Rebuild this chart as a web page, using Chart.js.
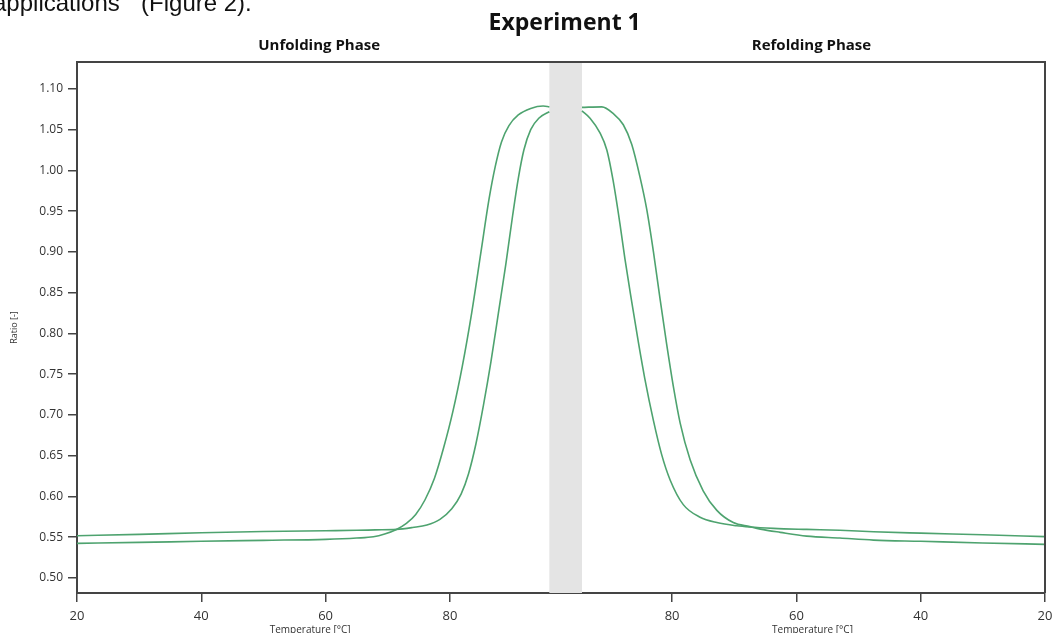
<!DOCTYPE html>
<html>
<head>
<meta charset="utf-8">
<script src="https://cdn.jsdelivr.net/npm/chart.js@4"></script>
<style>
body { margin: 0; background: #fff; }
#wrap { position: relative; width: 1060px; height: 633px; overflow: hidden; background: #fff; }
#chart { position: absolute; left: 0; top: 0; }
#doc { position: absolute; left: -7px; top: -9px; font: 24px 'Liberation Sans', Arial, sans-serif; line-height: 24px; color: #111; white-space: nowrap; }
</style>
</head>
<body>
<div id="wrap">
  <canvas id="chart" width="1060" height="633"></canvas>
  <div id="doc">applications”&nbsp; (Figure 2).</div>
</div>
<script>
// Experiment 1 - unfolding / refolding ratio curves

// Unfolding phase (temperature rising, drawn left to right)
const unfoldTempsA = [20, 30, 40, 50, 60, 65, 67.7, 69.5, 71.4, 73, 74.5, 76, 77.5, 79, 80.5, 82, 83.5, 85, 86.3, 87.3, 88.3, 89.5, 91, 93, 95, 96];
const unfoldRatioA = [0.5425, 0.5437, 0.545, 0.5462, 0.5474, 0.549, 0.5506, 0.554, 0.5596, 0.567, 0.578, 0.596, 0.622, 0.66, 0.705, 0.76, 0.825, 0.9, 0.965, 1.005, 1.035, 1.055, 1.068, 1.076, 1.079, 1.078];

const unfoldTempsB = [20, 30, 40, 50, 60, 65, 68, 71.4, 74, 76.3, 78.4, 80.3, 81.8, 83, 84.2, 85.4, 86.6, 87.8, 89, 90.1, 91, 91.9, 93, 94.3, 96];
const unfoldRatioB = [0.5518, 0.5535, 0.5555, 0.557, 0.558, 0.5585, 0.559, 0.5596, 0.562, 0.565, 0.572, 0.585, 0.603, 0.628, 0.665, 0.712, 0.765, 0.825, 0.885, 0.945, 0.99, 1.025, 1.05, 1.064, 1.072];

// Refolding phase (temperature falling, drawn from hot to cold)
const refoldTempsC = [20, 30, 40, 47.6, 53, 58.35, 62.6, 65.8, 67.5, 70.15, 72.8, 75, 77.1, 78.7, 79.8, 80.9, 81.95, 83, 84.1, 85.2, 86.5, 87.85, 89.5, 91.3, 94.5];
const refoldRatioC = [0.5413, 0.543, 0.545, 0.5465, 0.549, 0.5514, 0.556, 0.56, 0.563, 0.568, 0.583, 0.607, 0.645, 0.69, 0.735, 0.788, 0.843, 0.9, 0.953, 0.993, 1.032, 1.056, 1.07, 1.078, 1.0773];

const refoldTempsD = [20, 30, 40, 47.6, 53, 58.35, 63.7, 67.5, 69.6, 72.8, 75.5, 78.2, 80.3, 81.7, 83, 84.4, 85.4, 86.5, 87.6, 88.4, 89.5, 90.5, 91.6, 93.2, 94.5];
const refoldRatioD = [0.5508, 0.553, 0.555, 0.5567, 0.5585, 0.5596, 0.5609, 0.5625, 0.564, 0.568, 0.5746, 0.59, 0.62, 0.652, 0.693, 0.745, 0.788, 0.839, 0.892, 0.935, 0.988, 1.025, 1.046, 1.064, 1.073];

// Axis ticks
const yTicks = [0.50, 0.55, 0.60, 0.65, 0.70, 0.75, 0.80, 0.85, 0.90, 0.95, 1.00, 1.05, 1.10];
const leftTickTemps = [20, 40, 60, 80];
const rightTickTemps = [80, 60, 40, 20];

// Panel layout on a shared x axis
const BAND_START = 96;     // end of unfolding panel
const BAND_END = 101.25;   // start of refolding panel
const REFOLD_MAX = 94.5;   // temperature at the start of refolding
const toAxis = t => BAND_END + (REFOLD_MAX - t);

const lineColor = '#4ea36f';
const axisColor = '#444';
const font = "'Open Sans', 'Noto Sans', sans-serif";

function series(temps, ratios, refold) {
    const pts = temps.map((t, i) => ({ x: refold ? toAxis(t) : t, y: ratios[i] }));
    return refold ? pts.reverse() : pts;
}

const xTickValues = leftTickTemps.concat(rightTickTemps.map(toAxis));
const xTickLabels = leftTickTemps.concat(rightTickTemps);

const decor = {
    id: 'decor',
    beforeDatasetsDraw(chart) {
        const { ctx, chartArea, scales } = chart;
        const x0 = scales.x.getPixelForValue(BAND_START);
        const x1 = scales.x.getPixelForValue(BAND_END);
        ctx.save();
        ctx.fillStyle = '#e4e4e4';
        ctx.fillRect(x0, chartArea.top, x1 - x0, chartArea.bottom - chartArea.top);
        ctx.restore();
    },
    afterDraw(chart) {
        const { ctx, chartArea, scales } = chart;
        const x = scales.x;
        const leftMid = (chartArea.left + x.getPixelForValue(BAND_START)) / 2;
        const rightMid = (x.getPixelForValue(BAND_END) + chartArea.right) / 2;
        const bandMid = (x.getPixelForValue(BAND_START) + x.getPixelForValue(BAND_END)) / 2;

        ctx.save();
        // frame: top and right edges
        ctx.strokeStyle = axisColor;
        ctx.lineWidth = 2;
        ctx.beginPath();
        ctx.moveTo(chartArea.left, chartArea.top);
        ctx.lineTo(chartArea.right, chartArea.top);
        ctx.lineTo(chartArea.right, chartArea.bottom);
        ctx.stroke();

        ctx.fillStyle = '#111';
        ctx.textAlign = 'center';
        ctx.textBaseline = 'alphabetic';
        ctx.font = "bold 23px " + font;
        ctx.fillText('Experiment 1', bandMid - 1, 30);

        ctx.font = "bold 15px " + font;
        ctx.fillText('Unfolding Phase', leftMid + 6, 50);
        ctx.fillText('Refolding Phase', rightMid - 2, 50);

        ctx.fillStyle = '#333';
        ctx.font = "10px " + font;
        ctx.fillText('Temperature [°C]', leftMid - 3, 633);
        ctx.fillText('Temperature [°C]', rightMid - 1, 633);
        ctx.restore();
    }
};

new Chart(document.getElementById('chart'), {
    type: 'line',
    data: {
        datasets: [
            { data: series(unfoldTempsA, unfoldRatioA, false) },
            { data: series(unfoldTempsB, unfoldRatioB, false) },
            { data: series(refoldTempsC, refoldRatioC, true) },
            { data: series(refoldTempsD, refoldRatioD, true) }
        ].map(d => Object.assign(d, {
            borderColor: lineColor,
            borderWidth: 1.6,
            pointRadius: 0,
            fill: false,
            cubicInterpolationMode: 'monotone'
        }))
    },
    options: {
        responsive: false,
        animation: false,
        devicePixelRatio: 1,
        layout: { padding: { top: 62, right: 15, left: 5, bottom: 0 } },
        plugins: {
            legend: { display: false },
            tooltip: { enabled: false }
        },
        scales: {
            x: {
                type: 'linear',
                min: 20,
                max: toAxis(20),
                afterBuildTicks: s => { s.ticks = xTickValues.map(v => ({ value: v })); },
                afterFit: s => { s.height = 40; },
                ticks: {
                    autoSkip: false,
                    maxRotation: 0,
                    padding: 6,
                    color: '#333',
                    font: { family: font, size: 13 },
                    callback: v => {
                        const i = xTickValues.indexOf(v);
                        return i >= 0 ? String(xTickLabels[i]) : '';
                    }
                },
                grid: { drawOnChartArea: false, tickLength: 9, color: axisColor, lineWidth: 1.5 },
                border: { color: axisColor, width: 2 }
            },
            y: {
                min: 0.4816,
                max: 1.133,
                afterBuildTicks: s => { s.ticks = yTicks.map(v => ({ value: v })); },
                afterFit: s => { s.width = 72; },
                ticks: {
                    padding: 5,
                    color: '#333',
                    font: { family: font, size: 12 },
                    callback: v => Number(v).toFixed(2)
                },
                title: {
                    display: true,
                    text: 'Ratio [-]',
                    color: '#333',
                    font: { family: font, size: 9 }
                },
                grid: { drawOnChartArea: false, tickLength: 9, color: axisColor, lineWidth: 1.5 },
                border: { color: axisColor, width: 2 }
            }
        }
    },
    plugins: [decor]
});
</script>
</body>
</html>
